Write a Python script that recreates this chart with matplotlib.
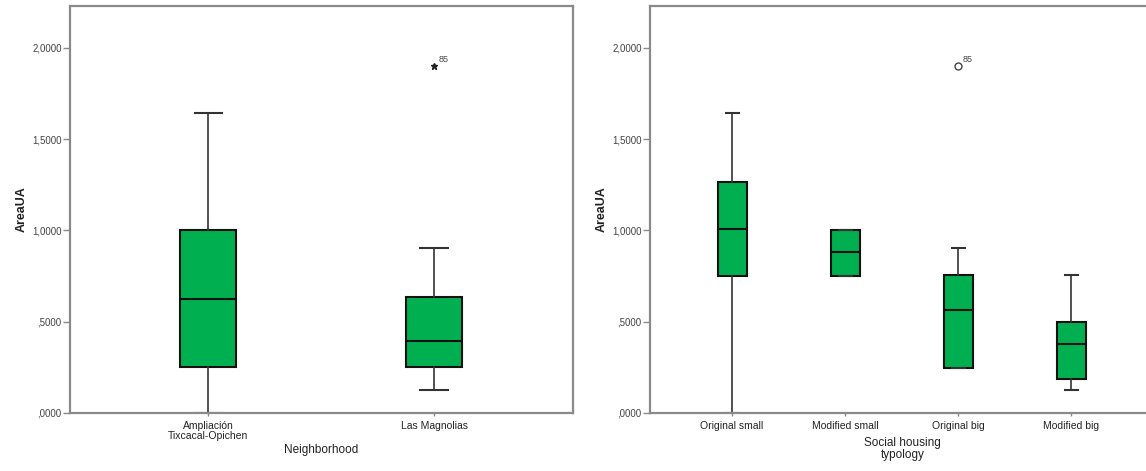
import matplotlib.pyplot as plt

plt.rcParams['font.family'] = ['Liberation Sans', 'DejaVu Sans']

# datos (AreaUA)
barrios = ["Ampliación\nTixcacal-Opichen", "Las Magnolias"]
barrio_whislo = [0.0, 0.126]
barrio_q1 = [0.252, 0.252]
barrio_med = [0.625, 0.395]
barrio_q3 = [1.003, 0.636]
barrio_whishi = [1.644, 0.904]
barrio_outliers = [[], [1.90]]

tipos = ["Original small", "Modified small", "Original big", "Modified big"]
tipo_whislo = [0.0, 0.75, 0.247, 0.126]
tipo_q1 = [0.75, 0.75, 0.247, 0.186]
tipo_med = [1.007, 0.88, 0.564, 0.38]
tipo_q3 = [1.263, 1.0, 0.756, 0.5]
tipo_whishi = [1.644, 1.0, 0.904, 0.756]
tipo_outliers = [[], [], [1.90], []]

yticks = [0, 0.5, 1.0, 1.5, 2.0]
ytick_labels = [",0000", ",5000", "1,0000", "1,5000", "2,0000"]

verde = "#00b050"
gris = "#8a8a8a"


def make_stats(lo, q1, med, q3, hi, fl):
    stats = []
    for i in range(len(lo)):
        stats.append(dict(whislo=lo[i], q1=q1[i], med=med[i], q3=q3[i],
                          whishi=hi[i], fliers=fl[i]))
    return stats


def style_axes(ax, labels, xlim):
    ax.set_ylim(0, 2.23)
    ax.set_xlim(*xlim)
    ax.set_yticks(yticks)
    ax.set_yticklabels(ytick_labels, fontsize=7, color="#444444")
    ax.set_xticks(range(1, len(labels) + 1))
    ax.set_xticklabels(labels, fontsize=7.5, color="#222222", linespacing=0.95)
    ax.tick_params(axis="y", length=5, width=1, color=gris, pad=1)
    ax.tick_params(axis="x", length=2, width=1, color=gris, pad=4)
    for s in ax.spines.values():
        s.set_color(gris)
        s.set_linewidth(1.6)
    ax.set_ylabel("AreaUA", fontsize=9, fontweight="bold", color="#222222", labelpad=3)


fig = plt.figure(figsize=(11.46, 4.71), dpi=100)

# panel izquierdo
ax1 = fig.add_axes([70 / 1146, 1 - 413 / 471, 503 / 1146, 407 / 471])
ax1.bxp(make_stats(barrio_whislo, barrio_q1, barrio_med, barrio_q3, barrio_whishi, barrio_outliers),
        positions=[1, 2], widths=0.248, capwidths=0.12, patch_artist=True,
        boxprops=dict(facecolor=verde, edgecolor="#111111", linewidth=1.5),
        medianprops=dict(color="#111111", linewidth=1.5),
        whiskerprops=dict(color="#333333", linewidth=1.2),
        capprops=dict(color="#333333", linewidth=1.5),
        flierprops=dict(marker="*", markersize=5, markerfacecolor="#222222",
                        markeredgecolor="#222222"))
style_axes(ax1, barrios, (0.389, 2.615))
for i, vals in enumerate(barrio_outliers):
    for v in vals:
        ax1.annotate("85", (i + 1, v), xytext=(3, 3), textcoords="offset points",
                     fontsize=6.5, color="#444444")
ax1.set_xlabel("Neighborhood", fontsize=8.5, color="#222222", labelpad=2)

# panel derecho
ax2 = fig.add_axes([650 / 1146, 1 - 413 / 471, 505 / 1146, 407 / 471])
ax2.bxp(make_stats(tipo_whislo, tipo_q1, tipo_med, tipo_q3, tipo_whishi, tipo_outliers),
        positions=[1, 2, 3, 4], widths=0.257, capwidths=0.115, patch_artist=True,
        boxprops=dict(facecolor=verde, edgecolor="#111111", linewidth=1.5),
        medianprops=dict(color="#111111", linewidth=1.5),
        whiskerprops=dict(color="#333333", linewidth=1.2),
        capprops=dict(color="#333333", linewidth=1.5),
        flierprops=dict(marker="o", markersize=5, markerfacecolor="white",
                        markeredgecolor="#444444", markeredgewidth=1))
style_axes(ax2, tipos, (0.274, 4.743))
for i, vals in enumerate(tipo_outliers):
    for v in vals:
        ax2.annotate("85", (i + 1, v), xytext=(3, 3), textcoords="offset points",
                     fontsize=6.5, color="#444444")
ax2.set_xlabel("Social housing\ntypology", fontsize=8.5, color="#222222",
               labelpad=4, linespacing=1.0)

fig.savefig("out.png", dpi=100)
